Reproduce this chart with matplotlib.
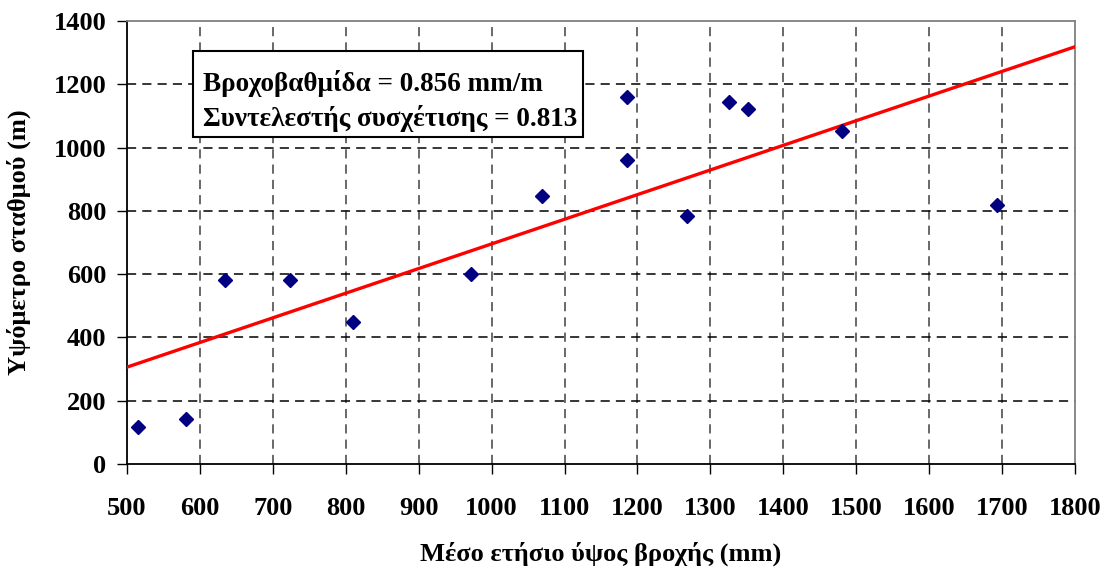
import numpy as np
import matplotlib
matplotlib.use("Agg")
import matplotlib.pyplot as plt
from matplotlib.patches import Rectangle

plt.rcParams['font.family'] = ['Liberation Serif', 'DejaVu Serif']
plt.rcParams['font.weight'] = 'bold'

# mean annual rainfall (mm) and rain gauge elevation (m)
rainfall = [515, 581, 634, 723, 810, 972, 1069, 1186, 1186, 1268, 1326, 1352, 1481, 1693]
elevation = [117, 142, 580, 580, 450, 600, 847, 1160, 960, 784, 1144, 1122, 1052, 820]
gradient_label = 'Βροχοβαθμίδα = 0.856 mm/m'
corr_label = 'Συντελεστής συσχέτισης = 0.813'

x_ticks = list(range(500, 1801, 100))
y_ticks = list(range(0, 1401, 200))


def drawChart():
    fig = plt.figure(figsize=(11.07, 5.71), dpi=100)
    ax = fig.add_axes([0.1147, 0.1874, 0.8564, 0.7758])

    # vertical and horizontal dashed grid
    for xv in x_ticks[1:-1]:
        ax.axvline(xv, color='#404040', lw=1.1, ls=(0, (6, 4)), zorder=1)
    for yv in y_ticks[1:-1]:
        ax.axhline(yv, color='black', lw=1.1, ls=(0, (6, 4)), zorder=1)

    # linear trend line
    k, b = np.polyfit(rainfall, elevation, 1)
    xs = np.array([500, 1800])
    ax.plot(xs, k * xs + b, color='#ff0000', lw=2.4, zorder=3)

    ax.plot(rainfall, elevation, 'D', color='#000080', ms=7.5, mec='#000080', zorder=4)

    ax.set_xlim(500, 1800)
    ax.set_ylim(0, 1400)
    ax.set_xticks(x_ticks)
    ax.set_yticks(y_ticks)
    ax.tick_params(direction='out', length=7, width=1, labelsize=19, pad=8)
    ax.tick_params(axis='x', pad=17)
    for lab in ax.get_xticklabels() + ax.get_yticklabels():
        lab.set_fontweight('bold')

    ax.spines['left'].set_color('black')
    ax.spines['bottom'].set_color('black')
    ax.spines['top'].set_color('#808080')
    ax.spines['right'].set_color('#808080')
    for s in ax.spines.values():
        s.set_linewidth(1.3)

    ax.set_xlabel('Μέσο ετήσιο ύψος βροχής (mm)', fontsize=19, fontweight='bold', labelpad=15)
    ax.set_ylabel('Υψόμετρο σταθμού (m)', fontsize=19, fontweight='bold', labelpad=16)

    # statistics box
    ax.add_patch(Rectangle((0.0696, 0.7375), 0.411, 0.1955, transform=ax.transAxes,
                           fill=True, facecolor='white', edgecolor='black', lw=1.5, zorder=5))
    ax.text(0.080, 0.859, gradient_label, transform=ax.transAxes, fontsize=19.5,
            fontweight='bold', va='center', ha='left', zorder=6)
    ax.text(0.080, 0.779, corr_label, transform=ax.transAxes, fontsize=19.5,
            fontweight='bold', va='center', ha='left', zorder=6)

    fig.savefig('out.png', dpi=100)


if __name__ == "__main__":
    drawChart()
